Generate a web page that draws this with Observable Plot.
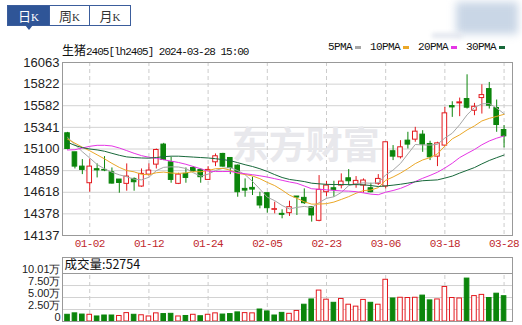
<!DOCTYPE html>
<html><head><meta charset="utf-8">
<script src="https://cdn.jsdelivr.net/npm/d3@7"></script>
<script src="https://cdn.jsdelivr.net/npm/@observablehq/plot@0.6"></script>
<style>
html,body{margin:0;padding:0;background:#fff;}
#wrap{position:relative;width:522px;height:325px;overflow:hidden;font-family:"Liberation Sans",Arial,sans-serif;}
.abs{position:absolute;}
#tabs{left:7px;top:5px;width:124px;height:21px;border:1px solid #3b5d9c;box-sizing:border-box;display:flex;z-index:3;background:#fff;}
.tab{height:19px;line-height:19px;text-align:center;color:#333;font-family:"Noto Sans CJK SC",sans-serif;font-size:13px;box-sizing:border-box;}
.tab span{font-family:"Liberation Serif",serif;font-size:11px;}
.tab.sel{background:#2f5597;color:#fff;}
#ptr{left:25px;top:25px;width:0;height:0;border-left:4px solid transparent;border-right:4px solid transparent;border-top:5px solid #2f5597;z-index:4;}
#title{left:62px;top:41px;font-size:11px;color:#111;white-space:nowrap;z-index:3;font-family:"Liberation Mono",monospace;letter-spacing:-1px;}
#title .cjk{font-family:"Noto Sans CJK SC",sans-serif;font-size:12px;letter-spacing:0;}
#legend{left:328px;top:41px;display:flex;align-items:center;font-family:"Liberation Mono",monospace;font-size:11px;letter-spacing:-0.6px;color:#111;z-index:3;white-space:nowrap;}
#legend .sw{display:inline-block;width:6px;height:3px;margin:0 9px 0 3px;}
#blur{left:456px;top:2px;width:62px;height:32px;background:#c9d6e6;filter:blur(4px);z-index:2;}
#blur2{left:432px;top:33px;width:30px;height:5px;background:#e2e6ee;filter:blur(2px);z-index:2;}
g[aria-label="x-axis tick label"] text{letter-spacing:-0.6px;}
</style></head><body>
<div id="wrap">
  <div id="main" class="abs" style="left:0;top:0;z-index:1"></div>
  <div id="vol" class="abs" style="left:0;top:250px;z-index:1"></div>
  <div id="tabs" class="abs"><div class="tab sel" style="width:42px;border-right:1px solid #3b5d9c">日<span>K</span></div><div class="tab" style="width:40px;border-right:1px solid #3b5d9c">周<span>K</span></div><div class="tab" style="width:40px">月<span>K</span></div></div>
  <div id="ptr" class="abs"></div>
  <div id="title" class="abs"><span class="cjk">生猪</span>2405[lh2405] 2024-03-28 15:00</div>
  <div id="legend" class="abs"></div>
  <div id="blur" class="abs"></div>
  <div id="blur2" class="abs"></div>
</div>
<script>
// ---- data ----
const dates = ["12-27","12-28","12-29","01-02","01-03","01-04","01-05","01-08","01-09","01-10","01-11","01-12","01-15","01-16","01-17","01-18","01-19","01-22","01-23","01-24","01-25","01-26","01-29","01-30","01-31","02-01","02-02","02-05","02-06","02-07","02-08","02-19","02-20","02-21","02-22","02-23","02-26","02-27","02-28","02-29","03-01","03-04","03-05","03-06","03-07","03-08","03-11","03-12","03-13","03-14","03-15","03-18","03-19","03-20","03-21","03-22","03-25","03-26","03-27","03-28"];
const opens  = [15275,15063,14904,14719,14875,14867,14841,14760,14712,14767,14682,14815,14926,15149,14952,14712,14823,14889,14867,14756,14952,15045,15000,14915,14656,14667,14563,14608,14423,14378,14386,14571,14556,14452,14300,14619,14663,14693,14774,14704,14693,14663,14712,14682,15075,15008,15193,15204,15260,15156,15015,15138,15578,15608,15656,15526,15667,15767,15556,15311];
const highs  = [15285,15063,14982,14989,14934,15015,14889,14760,14934,14778,14878,14934,15100,15163,15008,14830,14889,14904,14878,14904,15045,15052,15000,14923,14767,14786,14619,14608,14508,14423,14519,14571,14656,14452,14804,14740,14741,14823,14871,14793,14767,14719,14815,15175,15138,15193,15286,15341,15304,15186,15175,15563,15626,15667,15926,15608,15815,15841,15645,15360];
const lows   = [15090,14878,14815,14619,14778,14848,14710,14608,14630,14630,14674,14800,14878,14971,14719,14704,14719,14841,14719,14749,14904,14897,14815,14563,14563,14582,14434,14386,14378,14323,14349,14360,14482,14286,14290,14570,14563,14656,14693,14663,14608,14612,14693,14656,14971,14989,15100,15175,15063,14971,14904,15130,15452,15460,15545,15471,15489,15545,15286,15112];
const closes = [15100,14904,14867,14904,14862,14860,14715,14722,14793,14730,14823,14860,15089,14978,14756,14815,14778,14852,14786,14867,15019,14904,14889,14619,14637,14648,14471,14441,14430,14367,14452,14560,14497,14360,14645,14693,14645,14737,14741,14745,14749,14619,14767,15175,15015,15119,15149,15293,15149,15008,15163,15497,15563,15619,15560,15570,15700,15582,15367,15241];
const volumes = [14000,17000,14500,14000,10500,12500,12500,11500,17500,14000,13000,10500,17000,15500,16000,10500,11500,14000,11000,14000,17000,14500,15500,19000,17500,17000,25000,21000,12500,18000,16000,22000,35000,46000,64500,45500,39000,47000,35000,31000,45000,39000,35000,87000,48000,49500,49000,49500,54000,44000,46000,72000,49000,48000,89500,53000,55500,49000,58000,52754];
const ma5Start  = [15230,15150,15070,15000];
const ma10Start = [15210,15165,15120,15080,15035,14990,14940,14895,14860];
const ma20Start = [15089,15092,15111,15130,15141,15141,15134,15111,15082,15052,15026,15008,14997,14980,14965,14950,14930,14905,14880];
const ma30Start = [15175,15140,15115,15100,15090,15075,15052,15030,15012,15005,15000,14998,15005,15015,15020,15020,15015,15010,15005,15000,14992,14982,14970,14948,14925,14905,14880,14850,14815];
const yTicks = [14137,14378,14618,14859,15100,15341,15582,15822,16063];
const volTicks = [0,25000,50000,75000,100100];
const xTickLabels = ["01-02","01-12","01-24","02-05","02-23","03-06","03-18","03-28"];
const maNames = ["5PMA","10PMA","20PMA","30PMA"];
const maColors = ["#a6a6a6","#eba828","#e536e5","#17683a"];

// ---- build ----
const RED = "#e3191e", GREEN = "#0b850b";
function movingAvg(k, start){ return closes.map((c,i)=> i>=k-1 ? d3.mean(closes.slice(i-k+1,i+1)) : start[i]); }
const mas = [movingAvg(5,ma5Start), movingAvg(10,ma10Start), movingAvg(20,ma20Start), movingAvg(30,ma30Start)];
const data = dates.map((d,i)=>({i, date:d, open:opens[i], high:highs[i], low:lows[i], close:closes[i], vol:volumes[i],
  up: closes[i] >= opens[i], volUp: i>0 ? closes[i] > closes[i-1] : closes[i] >= opens[i],
  ma5:mas[0][i], ma10:mas[1][i], ma20:mas[2][i], ma30:mas[3][i]}));
const tickIdx = xTickLabels.map(d=>dates.indexOf(d));
const xDomain = [-0.68, dates.length - 1 + 1.14];
const hw = 0.31;

const main = Plot.plot({
  width:522, height:255, marginLeft:62, marginRight:10, marginTop:62, marginBottom:20,
  style:{background:"transparent", fontFamily:"Liberation Sans, Arial, sans-serif"},
  x:{type:"linear", domain:xDomain, label:null},
  y:{domain:[yTicks[0], yTicks[yTicks.length-1]], label:null},
  marks:[
    Plot.ruleY(yTicks, {stroke:"#d2d2d2"}),
    Plot.ruleX(tickIdx, {stroke:"#cccccc", strokeDasharray:"4,3"}),
    Plot.text(["东方财富"], {x:32.2, y:15126, fontSize:37, fontWeight:"bold", fill:"#e8e8ec", fontFamily:"Noto Sans CJK SC, sans-serif"}),
    Plot.ruleX(data, {x:"i", y1:"low", y2:"high", stroke:d=>d.up?RED:GREEN, strokeWidth:1}),
    Plot.rect(data, {x1:d=>d.i-hw, x2:d=>d.i+hw, y1:"open", y2:"close", fill:d=>d.up?"#fff":GREEN, stroke:d=>d.up?RED:GREEN, strokeWidth:1}),
    ...["ma5","ma10","ma20","ma30"].map((k,j)=>Plot.line(data, {x:"i", y:k, stroke:maColors[j], strokeWidth:1})),
    Plot.frame({stroke:"#999"}),
    Plot.axisY({ticks:yTicks, tickSize:0, tickPadding:3, fontSize:13, fill:"#222", label:null, tickFormat:d=>String(d)}),
    Plot.axisX({ticks:tickIdx, tickSize:0, tickPadding:4, fontSize:11, fill:"#c0282d", label:null, fontFamily:"Liberation Mono, monospace", tickFormat:i=>dates[i]})
  ]
});
document.getElementById("main").append(main);

const volTop = volTicks[volTicks.length-1];
const vol = Plot.plot({
  width:522, height:75, marginLeft:62, marginRight:10, marginTop:7, marginBottom:4,
  style:{background:"transparent", fontFamily:"Liberation Sans, Arial, sans-serif"},
  x:{type:"linear", domain:xDomain, label:null, axis:null},
  y:{domain:[0, volTop*64/48], label:null},
  marks:[
    Plot.ruleY(volTicks.slice(1,-1), {stroke:"#d2d2d2"}),
    Plot.ruleX(tickIdx, {y1:0, y2:volTop, stroke:"#cccccc", strokeDasharray:"4,3"}),
    Plot.rect(data, {x1:d=>d.i-hw, x2:d=>d.i+hw, y1:0, y2:"vol", fill:d=>d.volUp?"#fff":GREEN, stroke:d=>d.volUp?RED:GREEN, strokeWidth:1}),
    Plot.ruleY([volTop], {stroke:"#999"}),
    Plot.frame({stroke:"#999"}),
    Plot.text(["成交量:" + volumes[volumes.length-1]], {frameAnchor:"top-left", dx:2, dy:3, fontSize:12.5, fill:"#111", fontFamily:"Noto Sans CJK SC, Liberation Sans, sans-serif"}),
    Plot.axisY({ticks:volTicks, tickSize:0, tickPadding:2, dy:-4, fontSize:11, fill:"#222", label:null,
      tickFormat:d=> d===0 ? "0" : (d/10000).toFixed(2)+"万"})
  ]
});
document.getElementById("vol").append(vol);

const lg = document.getElementById("legend");
maNames.forEach((nm,j)=>{
  const t = document.createElement("span"); t.textContent = nm; lg.append(t);
  const s = document.createElement("span"); s.className = "sw"; s.style.background = maColors[j]; lg.append(s);
});
</script>
</body></html>
